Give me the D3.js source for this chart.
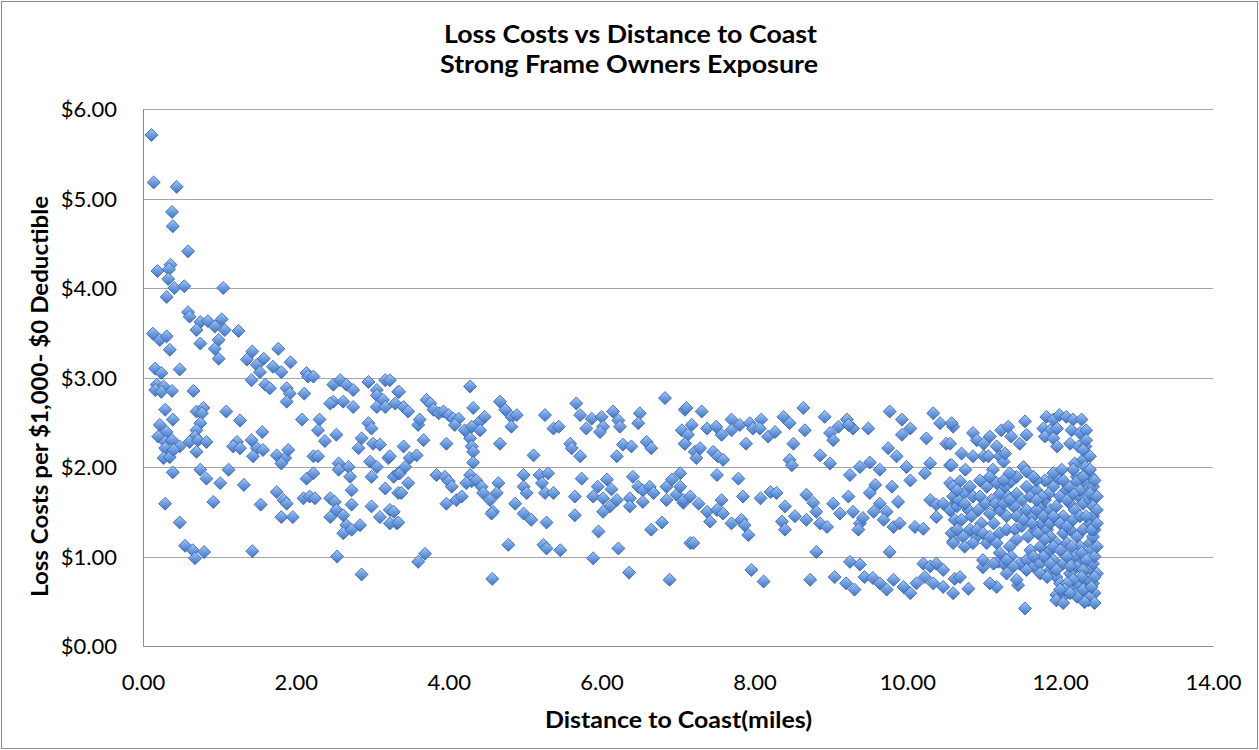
<!DOCTYPE html>
<html><head><meta charset="utf-8">
<script src="https://cdn.jsdelivr.net/npm/d3@7"></script>
<style>body{margin:0;background:#fff}svg{display:block}</style>
</head><body>
<script>
const titleLines = ["Loss Costs vs Distance to Coast", "Strong Frame Owners Exposure"];
const xTitle = "Distance to Coast(miles)";
const yTitle = "Loss Costs per $1,000- $0 Deductible";
const xTicks = [0, 2, 4, 6, 8, 10, 12, 14];
const yTicks = [0, 1, 2, 3, 4, 5, 6];

// [distance (miles), loss cost ($)]
const nearCoastTop = [[0.11,5.71],[0.14,5.18],[0.44,5.13],[0.38,4.85],[0.39,4.69],[0.59,4.41],[0.19,4.19],[0.36,4.26],[0.34,4.21],[0.33,4.10],[0.41,4.00],[0.54,4.02],[0.31,3.90],[1.05,4.00],[0.59,3.73],[0.61,3.68],[0.75,3.62],[0.85,3.63],[1.03,3.65],[0.70,3.53],[0.94,3.57],[1.07,3.53],[1.25,3.52],[0.75,3.38],[0.99,3.42],[0.94,3.32],[0.99,3.21],[0.13,3.49],[0.22,3.42],[0.31,3.46],[0.35,3.31],[1.36,3.20],[1.43,3.29],[1.49,3.14],[1.58,3.21],[1.77,3.32],[1.70,3.12],[1.81,3.06],[1.93,3.17],[1.53,3.06],[0.16,3.10],[0.24,3.05],[0.48,3.09],[2.14,3.05]];

const nearCoastLow = [[0.18,2.92],[0.27,2.90],[0.16,2.86],[0.24,2.84],[0.38,2.85],[0.66,2.85],[1.42,2.97],[1.60,2.92],[1.66,2.88],[1.88,2.88],[1.92,2.82],[1.88,2.73],[2.11,2.82],[2.16,3.01],[2.23,3.01],[0.29,2.64],[0.39,2.53],[0.22,2.47],[0.31,2.39],[0.20,2.34],[0.29,2.28],[0.38,2.30],[0.48,2.23],[0.29,2.21],[0.27,2.10],[0.35,2.11],[0.40,2.19],[0.70,2.62],[0.79,2.66],[0.77,2.60],[0.75,2.49],[0.70,2.41],[0.68,2.34],[0.61,2.28],[0.72,2.30],[0.83,2.28],[0.70,2.17],[0.39,1.94],[0.75,1.97],[0.83,1.87],[1.01,1.82],[1.12,1.97],[1.09,2.62],[1.27,2.52],[1.23,2.28],[1.18,2.23],[1.27,2.21],[1.42,2.30],[1.56,2.39],[1.49,2.21],[1.57,2.19],[1.44,2.12],[1.32,1.80],[0.29,1.59],[0.48,1.38],[0.55,1.12],[0.65,1.07],[0.68,0.98],[0.80,1.05],[0.92,1.61],[1.43,1.06],[1.54,1.58],[1.75,2.13],[1.86,2.10],[1.90,2.19],[1.81,2.04],[1.75,1.72],[1.84,1.63],[1.88,1.59],[1.81,1.44],[1.96,1.44],[2.08,2.53],[2.31,2.53],[2.29,2.41],[2.38,2.29],[2.53,2.36],[2.23,2.12],[2.29,2.12],[2.14,1.87],[2.23,1.93],[2.10,1.65],[2.18,1.67],[2.25,1.65],[2.45,1.65],[2.51,1.61],[2.45,1.44],[2.53,1.52],[2.62,1.46],[2.66,1.35],[2.62,1.26],[2.73,1.30],[2.84,1.35],[2.73,1.58],[2.73,1.74],[2.54,1.00],[2.86,0.80],[2.56,2.04],[2.56,1.97],[2.69,2.00],[2.71,1.89],[2.49,2.92],[2.58,2.97],[2.66,2.92],[2.75,2.86],[2.49,2.73],[2.62,2.73],[2.75,2.67],[2.45,2.71],[2.95,2.95],[3.17,2.97],[3.06,2.86],[3.06,2.80],[3.14,2.75],[3.06,2.67],[3.17,2.67],[3.34,2.84],[2.95,2.49],[2.99,2.43],[2.86,2.32],[2.82,2.21],[3.01,2.26],[3.10,2.25],[2.97,2.06],[3.06,2.00],[2.99,1.89],[3.21,2.10],[3.28,1.89],[3.34,1.93],[3.17,1.76],[2.99,1.56],[3.10,1.44],[3.23,1.52],[3.32,1.37],[3.34,1.71]];

const midRange = [[3.23,2.97],[3.35,2.84],[3.30,2.71],[3.41,2.67],[3.47,2.62],[3.60,2.47],[3.62,2.53],[3.67,2.30],[3.41,2.23],[3.49,2.10],[3.58,2.13],[3.23,2.12],[3.36,1.93],[3.43,2.00],[3.47,1.82],[3.38,1.71],[3.28,1.50],[3.23,1.37],[3.34,1.38],[3.60,0.94],[3.69,1.03],[3.71,2.75],[3.76,2.71],[3.80,2.64],[3.87,2.60],[3.93,2.62],[4.00,2.58],[4.06,2.54],[4.13,2.54],[4.08,2.47],[4.28,2.90],[4.32,2.66],[4.21,2.41],[4.30,2.45],[4.41,2.51],[4.47,2.56],[4.41,2.41],[4.28,2.32],[4.30,2.23],[4.32,2.17],[3.97,2.26],[4.32,2.05],[4.28,1.91],[4.30,1.84],[4.36,1.85],[4.43,1.78],[4.45,1.71],[4.54,1.63],[4.58,1.50],[4.65,1.82],[4.63,1.71],[3.84,1.91],[3.95,1.89],[4.00,1.84],[4.04,1.78],[3.97,1.59],[4.10,1.63],[4.17,1.67],[4.23,1.82],[4.56,1.48],[4.67,2.73],[4.74,2.64],[4.82,2.56],[4.89,2.58],[4.82,2.45],[4.67,2.26],[4.78,1.13],[4.57,0.75],[4.87,1.59],[4.98,1.48],[5.08,1.41],[4.98,1.91],[4.98,1.78],[5.02,1.71],[5.11,2.13],[5.19,1.91],[5.30,1.93],[5.22,1.82],[5.26,1.71],[5.37,1.71],[5.24,1.13],[5.28,1.09],[5.28,1.38],[5.46,1.07],[5.26,2.58],[5.37,2.43],[5.44,2.45],[5.59,2.26],[5.61,2.21],[5.72,2.12],[5.67,2.71],[5.72,2.58],[5.80,2.43],[5.87,2.54],[6.00,2.56],[6.02,2.45],[5.98,2.39],[6.15,2.62],[6.22,2.52],[6.24,2.45],[6.50,2.60],[6.48,2.49],[6.59,2.28],[6.65,2.21],[6.28,2.25],[6.39,2.23],[6.20,2.12],[6.83,2.77],[7.09,2.64],[7.05,2.41],[7.09,2.26],[5.74,1.87],[5.65,1.67],[5.65,1.46],[5.89,1.67],[5.95,1.78],[6.07,1.86],[6.13,1.75],[6.02,1.65],[6.11,1.56],[6.02,1.50],[6.20,1.63],[6.37,1.65],[6.41,1.89],[6.48,1.78],[6.54,1.74],[6.63,1.78],[6.68,1.71],[6.54,1.61],[6.37,1.56],[6.85,1.78],[6.92,1.86],[7.03,1.93],[6.98,1.69],[7.07,1.60],[6.85,1.63],[5.96,1.28],[6.22,1.09],[5.89,0.98],[6.36,0.82],[6.65,1.30],[6.79,1.38],[6.89,0.74],[7.16,1.15]];

const farRange = [[7.11,2.66],[7.31,2.62],[7.18,2.47],[7.13,2.36],[7.09,2.26],[7.22,2.17],[7.29,2.21],[7.24,2.10],[7.46,2.17],[7.52,2.12],[7.59,2.08],[7.38,2.43],[7.50,2.45],[7.57,2.36],[7.70,2.53],[7.70,2.41],[7.81,2.47],[7.94,2.49],[7.98,2.43],[8.09,2.53],[8.07,2.43],[8.18,2.34],[8.27,2.39],[8.38,2.56],[8.46,2.49],[8.64,2.66],[8.66,2.41],[8.51,2.26],[7.89,2.26],[8.46,2.08],[8.49,2.02],[8.86,2.13],[8.99,2.04],[8.92,2.56],[8.99,2.38],[9.10,2.45],[9.21,2.53],[9.29,2.43],[9.23,2.47],[9.49,2.43],[9.03,2.30],[9.77,2.62],[9.93,2.53],[10.04,2.43],[9.93,2.36],[10.34,2.60],[10.43,2.49],[10.25,2.32],[10.51,2.26],[10.60,2.45],[7.51,1.91],[7.79,1.87],[7.85,1.67],[8.08,1.65],[8.21,1.72],[8.29,1.71],[8.40,1.56],[8.36,1.39],[8.40,1.30],[8.53,1.45],[8.68,1.41],[8.68,1.69],[8.77,1.60],[8.81,1.50],[8.86,1.37],[8.95,1.33],[7.03,1.78],[7.07,1.63],[7.16,1.67],[7.27,1.59],[7.38,1.50],[7.42,1.39],[7.51,1.52],[7.57,1.63],[7.59,1.48],[7.70,1.37],[7.83,1.41],[7.92,1.24],[7.87,1.35],[7.20,1.15],[7.96,0.85],[8.12,0.72],[8.73,0.74],[8.81,1.05],[9.03,1.59],[9.12,1.48],[9.23,1.67],[9.29,1.50],[9.38,1.37],[9.36,1.30],[9.42,1.43],[9.56,1.50],[9.64,1.59],[9.73,1.50],[9.69,1.41],[9.82,1.33],[9.90,1.37],[9.88,1.61],[10.10,1.33],[10.21,1.31],[9.38,2.00],[9.51,2.05],[9.64,1.97],[9.75,2.21],[9.86,2.12],[9.99,2.00],[10.04,1.85],[9.80,1.78],[9.58,1.80],[9.51,1.71],[9.25,1.91],[10.23,1.93],[10.30,2.04],[10.56,2.02],[10.30,1.63],[10.38,1.58],[10.47,1.59],[10.56,1.52],[10.64,1.61],[10.38,1.44],[10.60,1.17],[9.77,1.05],[9.25,0.94],[9.38,0.91],[9.05,0.77],[9.20,0.70],[9.31,0.63],[9.44,0.77],[9.55,0.76],[9.64,0.70],[9.73,0.63],[9.82,0.74],[9.95,0.66],[10.04,0.59],[10.12,0.70],[10.21,0.92],[10.30,0.89],[10.38,0.92],[10.47,0.85],[10.47,0.66],[10.60,0.59],[10.34,0.70],[10.23,0.77]];

const edgeCluster = [[10.58,2.49],[10.56,2.26],[10.58,2.02],[10.56,1.82],[10.60,1.67],[10.56,1.52],[10.62,1.41],[10.58,1.26],[10.60,1.15],[10.71,2.15],[10.76,1.97],[10.86,2.38],[10.91,2.30],[11.00,2.26],[11.08,2.34],[11.00,2.12],[11.06,2.12],[11.23,2.41],[11.32,2.45],[11.36,2.34],[11.47,2.26],[11.54,2.51],[11.56,2.36],[11.21,2.12],[11.26,2.06],[11.12,1.97],[10.86,2.12],[11.52,2.00],[11.56,1.95],[11.82,2.56],[11.91,2.53],[11.99,2.58],[12.08,2.56],[12.17,2.53],[12.28,2.53],[11.78,2.43],[11.87,2.41],[11.96,2.43],[11.80,2.34],[11.91,2.32],[12.15,2.41],[12.26,2.38],[12.34,2.41],[11.96,2.23],[12.13,2.26],[12.24,2.23],[12.33,2.23],[11.87,1.84],[11.99,1.87],[12.08,1.74],[12.19,2.04],[12.30,2.08],[12.34,1.93],[12.22,1.89],[12.33,1.82],[12.37,1.76],[11.17,2.23],[11.28,2.15],
[10.69,1.84],[10.73,1.70],[10.65,1.56],[10.71,1.41],[10.80,1.52],[10.86,1.67],[10.82,1.30],[10.91,1.22],[10.97,1.37],[11.04,1.78],[11.10,1.63],[11.17,1.82],[11.21,1.70],[11.28,1.78],[11.32,1.67],[11.36,1.84],[11.43,1.70],[11.50,1.63],[11.56,1.78],[11.61,1.67],[11.69,1.74],[11.21,1.52],[11.30,1.45],[11.39,1.56],[11.47,1.48],[11.56,1.52],[11.65,1.45],[11.74,1.56],[11.13,1.37],[11.21,1.26],[11.30,1.30],[11.41,1.30],[11.50,1.34],[11.58,1.22],[11.67,1.30],[11.76,1.37],[11.83,1.30],[11.80,1.63],[11.87,1.52],[11.95,1.56],[12.04,1.45],[12.13,1.59],[12.19,1.52],[12.00,1.67],[12.09,1.63],[12.24,1.67],[12.30,1.59],[12.39,1.63],[11.87,1.22],[11.95,1.15],[12.04,1.26],[12.13,1.30],[12.22,1.22],[12.30,1.30],[12.39,1.37],[12.43,1.45],[11.04,1.15],[11.17,1.15],[11.34,1.11],[11.43,1.19],[11.61,1.07],[11.74,1.11],[11.87,1.07],[12.26,1.11],[12.39,1.15],[12.43,1.22],
[10.99,0.88],[11.19,0.94],[11.17,0.66],[11.45,0.68],[11.54,0.42],[10.62,0.75],[10.69,0.77],[10.80,0.64],[11.26,0.92],[11.36,1.00],[11.47,0.92],[11.56,0.96],[11.65,0.89],[11.74,0.92],[11.87,0.85],[11.95,0.77],[12.00,0.70],[12.04,0.55],[11.95,0.57],[12.13,0.66],[12.22,0.59],[12.30,0.55],[12.39,0.63],[12.43,0.70],[12.34,0.77],[12.39,0.85],[12.43,0.92],[12.30,0.96],[12.22,0.89],[12.13,0.81],[12.04,0.92],[11.91,0.96],[11.78,1.00],[12.37,0.51],[12.26,0.68],
[12.34,2.30],[12.30,2.19],[12.39,2.12],[12.33,2.00],[12.41,1.89],[12.43,1.78],[12.39,1.70],[12.43,1.56],[12.45,1.30],[12.41,1.07],[12.45,1.00],[12.48,0.81],[12.45,0.59],[12.39,0.55],[12.17,1.97],[12.22,1.84]];

const edgeClusterExtra = [[10.60,1.78],[10.67,1.63],[10.75,1.59],[10.84,1.45],[10.93,1.52],[10.95,1.67],[11.02,1.59],[11.08,1.48],[11.15,1.59],[11.26,1.59],[11.34,1.63],[11.43,1.45],[11.52,1.41],[11.63,1.37],[11.69,1.52],[11.78,1.45],[11.71,1.26],[11.80,1.19],[11.87,1.37],[11.91,1.45],[12.00,1.37],[12.09,1.34],[12.17,1.41],[12.26,1.45],[12.34,1.45],[12.41,1.30],[11.91,1.11],[12.09,1.15],[12.15,1.11],[12.19,1.00],[12.28,1.04],[12.34,0.96],[12.09,1.00],[12.00,1.07],[11.87,0.92],[11.95,0.85],[12.13,0.89],[12.30,0.85],[12.37,0.74],[12.28,0.77],[12.17,0.74],[12.09,0.70],[12.06,0.63],[12.30,0.63],[12.41,0.66],[12.45,0.77],[12.45,0.48],[12.32,0.49],[12.22,0.55],[12.13,0.59],[12.00,0.63],[11.95,0.51],[12.04,0.48],[12.48,1.11],[12.48,1.37],[12.48,1.52],[12.48,1.67],[12.45,1.85],[12.39,1.97],[12.30,1.89],[12.26,1.74],[12.17,1.70],[12.11,1.78],[12.04,1.85],[11.91,1.78],[11.85,1.70],[11.76,1.67],[11.69,1.63],[11.91,1.93],[12.02,1.97],[11.80,1.85],[11.69,1.85],[11.65,1.89],[11.43,1.89],[11.34,1.93],[11.26,1.85],[11.08,1.89],[10.95,1.85],[10.82,1.78],[10.65,1.74],[10.91,1.30],[10.86,1.15],[10.73,1.22],[10.65,1.30],[10.75,1.11],[10.99,1.26],[11.08,1.22],[11.21,1.04],[11.30,0.96],[11.39,0.89],[11.56,0.85],[11.65,1.00],[11.74,0.81],[11.83,0.77],[11.13,0.92],[10.99,0.96],[11.43,0.74],[11.30,0.81],[11.08,0.70]];

const W = 1259, H = 750;
const svg = d3.select("body").append("svg").attr("width", W).attr("height", H);

const defs = svg.append("defs");
const grad = defs.append("linearGradient").attr("id", "dg").attr("x1", 0).attr("y1", 0).attr("x2", 0).attr("y2", 1);
grad.append("stop").attr("offset", "0%").attr("stop-color", "#a8c7f0");
grad.append("stop").attr("offset", "50%").attr("stop-color", "#6b9be0");
grad.append("stop").attr("offset", "100%").attr("stop-color", "#4474bf");

svg.append("rect").attr("x", 1.5).attr("y", 1.5).attr("width", W - 3).attr("height", H - 3)
  .attr("fill", "#fff").attr("stroke", "#8a8a8a").attr("stroke-width", 1);

const x = d3.scaleLinear().domain([0, 14]).range([143, 1213]);
const y = d3.scaleLinear().domain([0, 6]).range([646, 109]);

// gridlines
svg.append("g").selectAll("line").data(yTicks.filter(d => d > 0)).join("line")
  .attr("x1", x(0)).attr("x2", x(14)).attr("y1", d => Math.round(y(d)) + 0.5).attr("y2", d => Math.round(y(d)) + 0.5)
  .attr("stroke", "#a6a6a6").attr("stroke-width", 1);

// y axis
const gy = svg.append("g").attr("transform", `translate(${x(0)},0)`)
  .call(d3.axisLeft(y).tickValues(yTicks).tickFormat(d => "$" + d.toFixed(2)).tickSize(0).tickPadding(26));
gy.select(".domain").attr("stroke", "#8c8c8c");
gy.selectAll("text").attr("font-family", "Lato, 'Open Sans', sans-serif").attr("font-size", 22).attr("fill", "#000").attr("dy", "0.36em");

// x axis
const gx = svg.append("g").attr("transform", `translate(0,${y(0)})`)
  .call(d3.axisBottom(x).tickValues(xTicks).tickFormat(d => d.toFixed(2)).tickSize(0));
gx.select(".domain").attr("stroke", "#8c8c8c");
gx.selectAll("text").attr("font-family", "Lato, 'Open Sans', sans-serif").attr("font-size", 22).attr("fill", "#000").attr("y", 44).attr("dy", 0);

// markers
const diamond = { draw(ctx, size) { const r = Math.sqrt(size / 2); ctx.moveTo(0, -r); ctx.lineTo(r, 0); ctx.lineTo(0, r); ctx.lineTo(-r, 0); ctx.closePath(); } };
const allPoints = [].concat(nearCoastTop, nearCoastLow, midRange, farRange, edgeCluster, edgeClusterExtra);
svg.append("g").selectAll("path").data(allPoints).join("path")
  .attr("d", d3.symbol().type(diamond).size(84))
  .attr("transform", d => `translate(${x(d[0])},${y(d[1])})`)
  .attr("fill", "url(#dg)").attr("stroke", "#3d69ae").attr("stroke-width", 0.9);

// titles
const tfont = "Lato, 'Open Sans', sans-serif";
svg.append("text").attr("x", 630.5).attr("y", 43).attr("text-anchor", "middle")
  .attr("font-family", tfont).attr("font-weight", 700).attr("font-size", 24)
  .attr("textLength", 373).attr("lengthAdjust", "spacingAndGlyphs").text(titleLines[0]);
svg.append("text").attr("x", 629).attr("y", 73).attr("text-anchor", "middle")
  .attr("font-family", tfont).attr("font-weight", 700).attr("font-size", 24)
  .attr("textLength", 378).attr("lengthAdjust", "spacingAndGlyphs").text(titleLines[1]);
svg.append("text").attr("x", 678.5).attr("y", 728).attr("text-anchor", "middle")
  .attr("font-family", tfont).attr("font-weight", 700).attr("font-size", 23)
  .attr("textLength", 267).attr("lengthAdjust", "spacingAndGlyphs").text(xTitle);
svg.append("text").attr("transform", "translate(48,396.5) rotate(-90)").attr("text-anchor", "middle")
  .attr("font-family", tfont).attr("font-weight", 700).attr("font-size", 23)
  .attr("textLength", 401).attr("lengthAdjust", "spacingAndGlyphs").text(yTitle);
</script>
</body></html>
